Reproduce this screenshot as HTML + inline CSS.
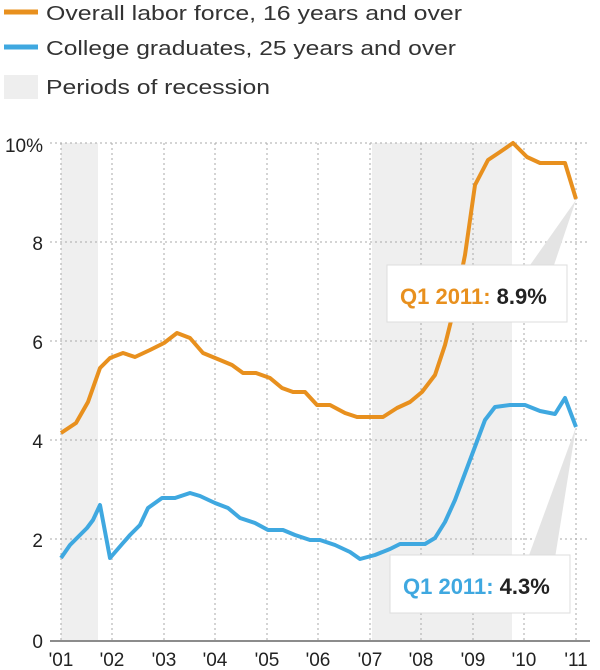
<!DOCTYPE html>
<html><head><meta charset="utf-8"><style>
body{margin:0;background:#fff}
svg{display:block;font-family:"Liberation Sans",sans-serif}
</style></head><body>
<svg width="600" height="670" viewBox="0 0 600 670">
<!-- legend -->
<line x1="4" y1="12" x2="38" y2="12" stroke="#e8901e" stroke-width="5"/>
<text x="46" y="20" font-size="20" fill="#333" textLength="416" lengthAdjust="spacingAndGlyphs">Overall labor force, 16 years and over</text>
<line x1="4" y1="47" x2="38" y2="47" stroke="#3fa8e0" stroke-width="5"/>
<text x="46" y="55" font-size="20" fill="#333" textLength="410" lengthAdjust="spacingAndGlyphs">College graduates, 25 years and over</text>
<rect x="4" y="75" width="34" height="24" fill="#eeeeee"/>
<text x="46" y="94" font-size="20" fill="#333" textLength="224" lengthAdjust="spacingAndGlyphs">Periods of recession</text>
<!-- recession shading -->
<rect x="61" y="143" width="37" height="497" fill="#efefef"/>
<rect x="372" y="143" width="140" height="497" fill="#efefef"/>
<!-- grid -->
<g stroke="#aaa" stroke-width="1" stroke-dasharray="2,3">
<line x1="50" y1="143" x2="588" y2="143"/>
<line x1="50" y1="242" x2="588" y2="242"/>
<line x1="50" y1="341" x2="588" y2="341"/>
<line x1="50" y1="440" x2="588" y2="440"/>
<line x1="50" y1="539" x2="588" y2="539"/>
<line x1="61" y1="143" x2="61" y2="640"/>
<line x1="112" y1="143" x2="112" y2="640"/>
<line x1="164" y1="143" x2="164" y2="640"/>
<line x1="215" y1="143" x2="215" y2="640"/>
<line x1="267" y1="143" x2="267" y2="640"/>
<line x1="318" y1="143" x2="318" y2="640"/>
<line x1="370" y1="143" x2="370" y2="640"/>
<line x1="421" y1="143" x2="421" y2="640"/>
<line x1="473" y1="143" x2="473" y2="640"/>
<line x1="524" y1="143" x2="524" y2="640"/>
<line x1="576" y1="143" x2="576" y2="640"/>
</g>
<line x1="50" y1="641" x2="590" y2="641" stroke="#666" stroke-width="1.5"/>
<!-- y labels -->
<g font-size="19" fill="#222" text-anchor="end">
<text x="43" y="152">10%</text>
<text x="43" y="250">8</text>
<text x="43" y="349">6</text>
<text x="43" y="448">4</text>
<text x="43" y="547">2</text>
<text x="43" y="648">0</text>
</g>
<g font-size="19" fill="#222" text-anchor="middle">
<text x="61" y="666">'01</text><text x="112" y="666">'02</text><text x="164" y="666">'03</text>
<text x="215" y="666">'04</text><text x="267" y="666">'05</text><text x="318" y="666">'06</text>
<text x="370" y="666">'07</text><text x="421" y="666">'08</text><text x="473" y="666">'09</text>
<text x="524" y="666">'10</text><text x="576" y="666">'11</text>
</g>
<!-- series -->
<polyline fill="none" stroke="#e8901e" stroke-width="4" stroke-linejoin="round" points="61,433 76,423 88,402 100,368 110,358 123,353 135,357 150,350 164,343 177,333 190,338 203,353 220,360 232,365 243,373 256,373 270,378 282,388 293,392 305,392 317,405 330,405 345,413 357,417 370,417 383,417 397,408 410,402 422,392 435,375 445,345 455,305 465,255 475,185 488,160 500,152 513,143 527,157 540,163 565,163 576,199"/>
<polyline fill="none" stroke="#3fa8e0" stroke-width="4" stroke-linejoin="round" points="61,558 70,545 80,535 87,528 93,520 100,505 110,558 123,543 130,535 140,525 148,508 162,498 175,498 190,493 200,496 215,503 228,508 240,518 255,523 268,530 283,530 295,535 310,540 320,540 335,545 350,552 360,559 375,555 390,549 400,544 412,544 425,544 435,538 445,522 455,500 470,460 485,420 495,407 510,405 525,405 540,411 555,414 565,398 576,427"/>
<!-- callouts -->
<polygon points="528,268 576,200 553,268" fill="#e4e4e4"/>
<rect x="387" y="265" width="180" height="57" fill="#fff" stroke="#ddd"/>
<text x="400" y="304" font-size="22" font-weight="bold" fill="#e8901e">Q1 2011: <tspan fill="#222">8.9%</tspan></text>
<polygon points="528,558 576,427 555,558" fill="#e4e4e4"/>
<rect x="390" y="555" width="180" height="58" fill="#fff" stroke="#ddd"/>
<text x="403" y="594" font-size="22" font-weight="bold" fill="#3fa8e0">Q1 2011: <tspan fill="#222">4.3%</tspan></text>
</svg>
</body></html>
